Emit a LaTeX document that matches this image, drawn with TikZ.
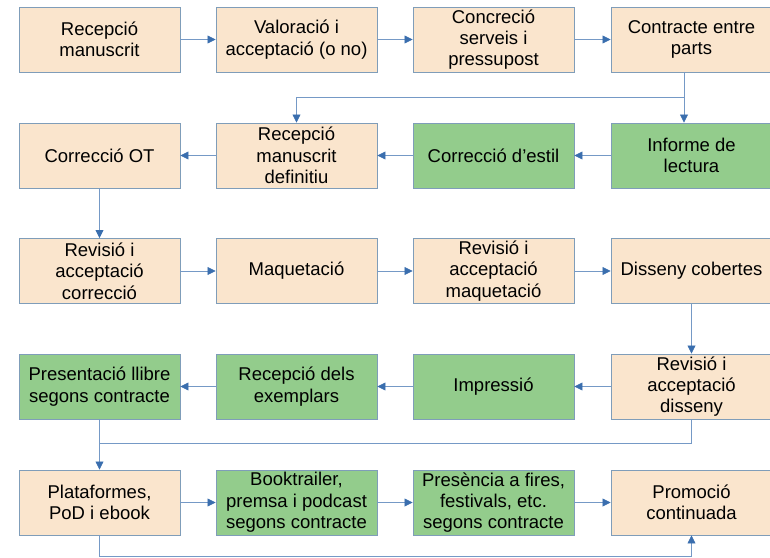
\documentclass[tikz,border=0pt]{standalone}
\usepackage{fontspec}
\setmainfont{Liberation Sans}
\usetikzlibrary{arrows.meta}
\definecolor{peach}{HTML}{FAE5CD}
\definecolor{leaf}{HTML}{93CC8C}
\definecolor{rim}{HTML}{7F9DB9}
\definecolor{flow}{HTML}{3A6EAE}
\tikzset{
	box/.style={draw=rim, line width=0.9pt, minimum width=161, minimum height=65, inner sep=0pt, align=center, font=\fontsize{18.5}{21.3}\selectfont},
	todo/.style={box, fill=peach},
	done/.style={box, fill=leaf},
	wire/.style={draw=flow!70, line width=0.7pt},
	link/.style={wire, -{Triangle[length=8pt,width=8pt,color=flow]}}
}
\begin{document}
\begin{tikzpicture}[x=1pt, y=-1pt]
	\def \ca{99.5}
	\def \cb{296.5}
	\def \cc{493.5}
	\def \cd{691.5}
	\useasboundingbox (0,0) rectangle (770,557);
	% row 1
	\node[todo] (r1c1) at (\ca, 39.5) {Recepció\\manuscrit};
	\node[todo] (r1c2) at (\cb, 39.5) {Valoració i\\acceptació (o no)};
	\node[todo] (r1c3) at (\cc, 39.5) {Concreció\\serveis i\\pressupost};
	\node[todo] (r1c4) at (\cd, 39.5) {Contracte entre\\parts};
	% row 2
	\node[todo] (r2c1) at (\ca, 155.5) {Correcció OT};
	\node[todo] (r2c2) at (\cb, 155.5) {Recepció\\manuscrit\\definitiu};
	\node[done] (r2c3) at (\cc, 155.5) {Correcció d’estil};
	\node[done] (r2c4) at (\cd, 155.5) {Informe de\\lectura};
	% row 3
	\node[todo] (r3c1) at (\ca, 271) {Revisió i\\acceptació\\correcció};
	\node[todo] (r3c2) at (\cb, 271) {Maquetació};
	\node[todo] (r3c3) at (\cc, 271) {Revisió i\\acceptació\\maquetació};
	\node[todo] (r3c4) at (\cd, 271) {Disseny cobertes};
	% row 4
	\node[done] (r4c1) at (\ca, 386.5) {Presentació llibre\\segons contracte};
	\node[done] (r4c2) at (\cb, 386.5) {Recepció dels\\exemplars};
	\node[done] (r4c3) at (\cc, 386.5) {Impressió};
	\node[todo] (r4c4) at (\cd, 386.5) {Revisió i\\acceptació\\disseny};
	% row 5
	\node[todo] (r5c1) at (\ca, 502.5) {Plataformes,\\PoD i ebook};
	\node[done] (r5c2) at (\cb, 502.5) {Booktrailer,\\premsa i podcast\\segons contracte};
	\node[done] (r5c3) at (\cc, 502.5) {Presència a fires,\\festivals, etc.\\segons contracte};
	\node[todo] (r5c4) at (\cd, 502.5) {Promoció\\continuada};
	% arrows along the rows
	\foreach \r in {1,3,5}{\draw[link] (r\r c1) -- (r\r c2); \draw[link] (r\r c2) -- (r\r c3); \draw[link] (r\r c3) -- (r\r c4);};
	\foreach \r in {2,4}{\draw[link] (r\r c4) -- (r\r c3); \draw[link] (r\r c3) -- (r\r c2); \draw[link] (r\r c2) -- (r\r c1);};
	% row to row
	\coordinate (split) at (684, 97.5);
	\draw[link] ([xshift=-7.5pt]r1c4.south) -- ([xshift=-7.5pt]r2c4.north);
	\draw[link] (split) -| (r2c2.north);
	\draw[link] (r2c1) -- (r3c1);
	\draw[link] (r3c4) -- (r4c4);
	\coordinate (merge) at (\ca, 443.5);
	\draw[wire] (r4c4.south) |- (merge);
	\draw[link] (r4c1) -- (r5c1);
	\draw[link] (r5c1.south) -- ++(0,21) -| (r5c4.south);
\end{tikzpicture}
\end{document}
